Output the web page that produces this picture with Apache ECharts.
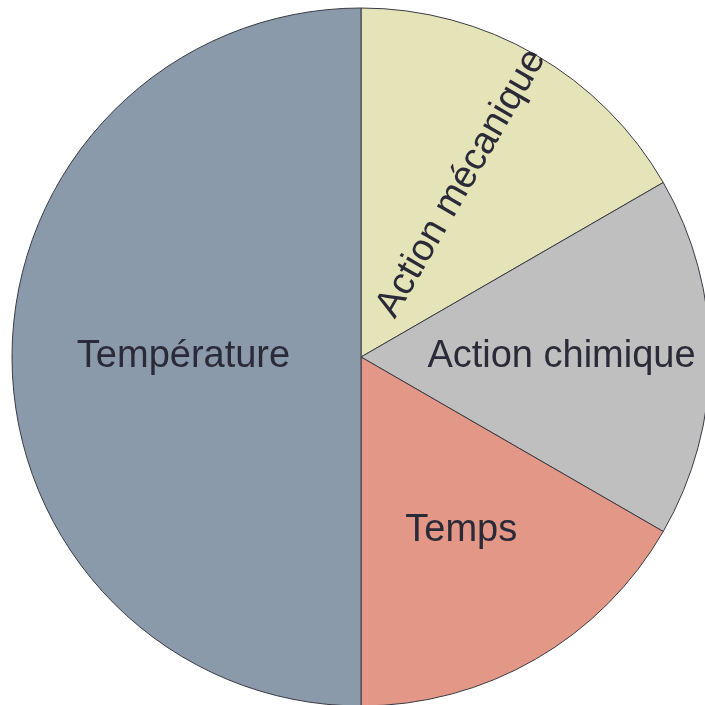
<!DOCTYPE html>
<html>
<head>
<meta charset="utf-8">
<script src="https://cdn.jsdelivr.net/npm/echarts@6/dist/echarts.min.js"></script>
<style>html,body{margin:0;padding:0;background:#fff;}#c{width:705px;height:705px;}</style>
</head>
<body>
<div id="c"></div>
<script>
const categories = ['Action mécanique', 'Action chimique', 'Temps', 'Température'];
const values = [1, 1, 1, 3];
const colors = ['#E5E4B8', '#BFBFBF', '#E39787', '#8A9AAB'];
const rotations = ['radial', 0, 0, 0];

const chart = echarts.init(document.getElementById('c'), null, {renderer: 'canvas'});
const font = {fontFamily: 'Liberation Sans, Arial, sans-serif', fontSize: 38, color: '#2a2a38', padding: [6, 0, 0, 0]};

const mainData = categories.map((n, i) => ({
  name: n, value: values[i],
  itemStyle: {color: colors[i]},
  label: {show: n === 'Température'}
}));
const labelData = categories.map((n, i) => ({
  name: n, value: values[i],
  label: {show: n !== 'Température', rotate: rotations[i]}
}));

chart.setOption({
  animation: false,
  series: [
    {
      type: 'pie', center: [361, 357], radius: [0, 349], startAngle: 90, clockwise: true,
      silent: true,
      itemStyle: {borderColor: '#3a3a44', borderWidth: 1},
      label: Object.assign({position: 'inside', formatter: '{b}'}, font),
      labelLine: {show: false},
      emphasis: {disabled: true},
      data: mainData
    },
    {
      type: 'pie', center: [361, 357], radius: [46, 349], startAngle: 90, clockwise: true,
      silent: true, z: 3,
      itemStyle: {color: 'rgba(0,0,0,0)', borderWidth: 0},
      label: Object.assign({position: 'inside', formatter: '{b}'}, font),
      labelLine: {show: false},
      emphasis: {disabled: true},
      data: labelData
    }
  ]
});
</script>
</body>
</html>
